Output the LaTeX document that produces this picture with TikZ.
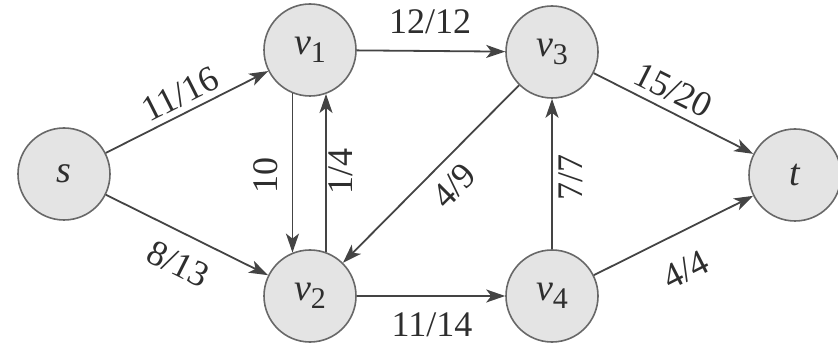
\documentclass[tikz,border=0pt]{standalone}
\usepackage{fontspec}
\setmainfont{Liberation Serif}
\usetikzlibrary{arrows.meta}
\definecolor{edgecol}{HTML}{444444}
\definecolor{nodefill}{HTML}{E4E4E4}
\definecolor{nodedraw}{HTML}{686868}
\definecolor{txtcol}{HTML}{2E2E2E}
\tikzset{
  vert/.style={circle, draw=nodedraw, line width=0.8pt, fill=nodefill, minimum size=46pt, inner sep=0pt, text=txtcol, font=\fontsize{19}{22}\selectfont},
  edge/.style={draw=edgecol, line width=0.9pt, -{Stealth[length=9.5pt,width=6.5pt,inset=2.5pt]}},
  lab/.style={text=txtcol, font=\fontsize{18}{21}\selectfont, inner sep=0pt}
}
\newcommand{\vname}[2]{\textit{#1}\raisebox{-0.45ex}{\fontsize{15}{17}\selectfont #2}}
\begin{document}
\begin{tikzpicture}[x=0.5pt,y=-0.5pt]
\useasboundingbox (0,0) rectangle (838,346);
\node[vert] (s)  at (64,174)  {\textit{s}};
\node[vert] (v1) at (310,50)  {\vname{v}{1}};
\node[vert] (v2) at (310,296) {\vname{v}{2}};
\node[vert] (v3) at (552,52)  {\vname{v}{3}};
\node[vert] (v4) at (552,296) {\vname{v}{4}};
\node[vert] (t)  at (795,175) {\textit{t}};

\draw[edge] (s) -- (v1);
\draw[edge] (s) -- (v2);
\draw[edge] (v1) -- (v3);
\draw[edge] (v1.-112) -- (v2.112);
\draw[edge] (v2.70) -- (v1.-70);
\draw[edge] (v3) -- (v2);
\draw[edge] (v2) -- (v4);
\draw[edge] (v4) -- (v3);
\draw[edge] (v3) -- (t);
\draw[edge] (v4) -- (t);

\node[lab, rotate=26.7] (l1) at (180,94) {11/16};
\node[lab, rotate=-26.7] (l2) at (178,264) {8/13};
\node[lab] (l3) at (430,22) {12/12};
\node[lab, rotate=90] (l4) at (266,176) {10};
\node[lab, rotate=90] (l5) at (341,172) {1/4};
\node[lab, rotate=45] (l6) at (454,186) {4/9};
\node[lab, rotate=90] (l7) at (571,178) {7/7};
\node[lab] (l8) at (432,325) {11/14};
\node[lab, rotate=-26.8] (l9) at (673,90) {15/20};
\node[lab, rotate=26.8] (l10) at (686,270) {4/4};
\end{tikzpicture}
\end{document}
